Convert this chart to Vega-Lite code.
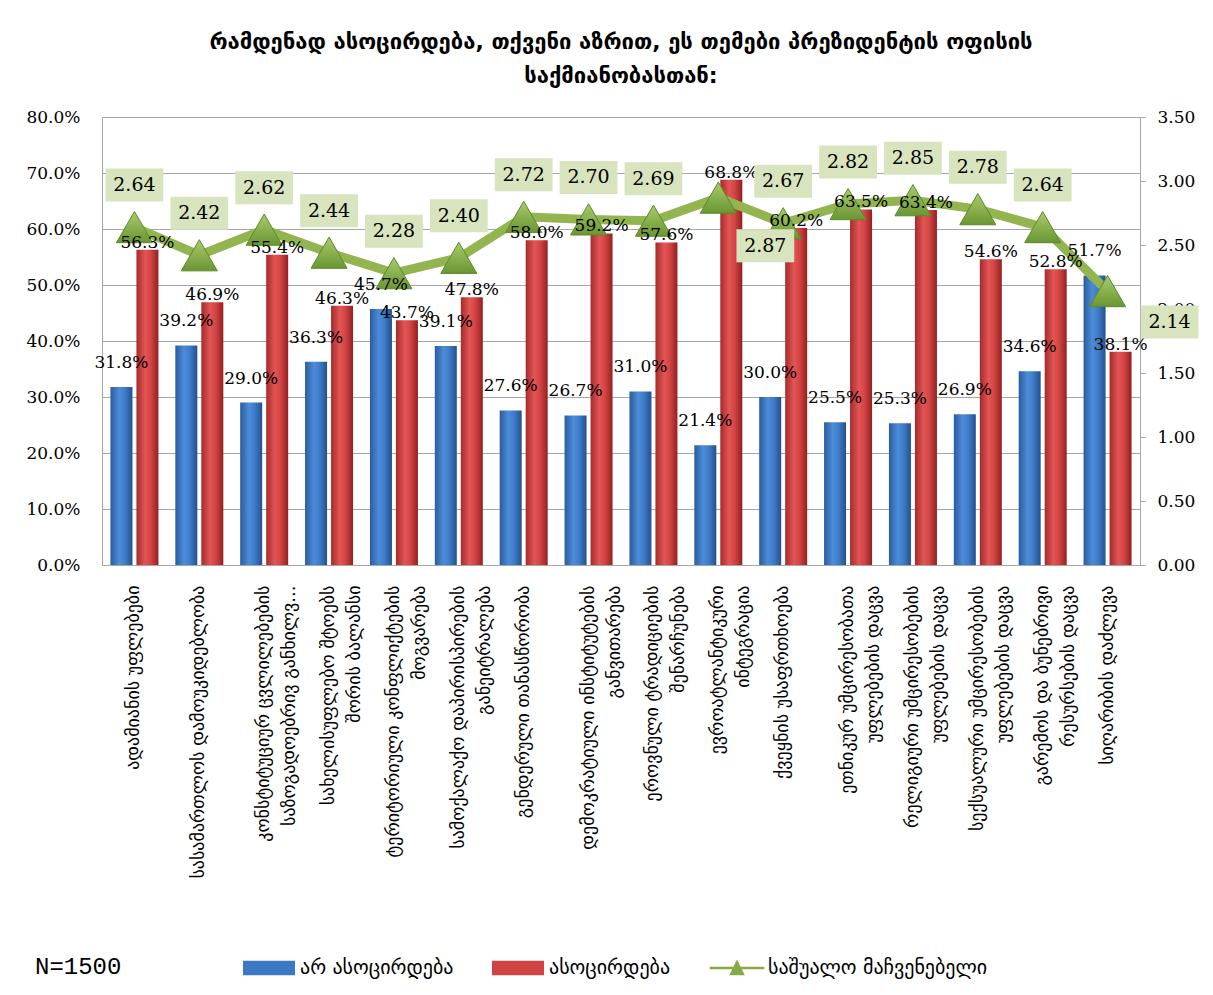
{
  "$schema": "https://vega.github.io/schema/vega-lite/v6.json",
  "width": 1038,
  "height": 448,
  "autosize": {"type": "none"},
  "padding": {"left": 102, "top": 117, "right": 73, "bottom": 430},
  "background": "white",
  "title": {
    "text": ["რამდენად ასოცირდება, თქვენი აზრით, ეს თემები პრეზიდენტის ოფისის", "საქმიანობასთან:"],
    "font": "DejaVu Sans",
    "fontSize": 22,
    "fontWeight": "bold",
    "color": "#000000",
    "anchor": "middle",
    "lineHeight": 34,
    "offset": 20
  },
  "data": {
    "values": [
      {"cat": "ადამიანის უფლებები", "no": 0.318, "yes": 0.563, "avg": 2.64},
      {"cat": "სასამართლოს დამოუკიდებლობა", "no": 0.392, "yes": 0.469, "avg": 2.42},
      {"cat": "კონსტიტუციურ ცვლილებების|საზოგადოებრივ განხილვ...", "no": 0.29, "yes": 0.554, "avg": 2.62},
      {"cat": "სახელისუფლებო შტოებს|შორის ბალანსი", "no": 0.363, "yes": 0.463, "avg": 2.44},
      {"cat": "ტერიტორიული კონფლიქტების|მოგვარება", "no": 0.457, "yes": 0.437, "avg": 2.28},
      {"cat": "სამოქალაქო დაპირისპირების|განეიტრალება", "no": 0.391, "yes": 0.478, "avg": 2.40},
      {"cat": "გენდერული თანასწორობა", "no": 0.276, "yes": 0.58, "avg": 2.72},
      {"cat": "დემოკრატიული ინსტიტუტების|განვითარება", "no": 0.267, "yes": 0.592, "avg": 2.70},
      {"cat": "ეროვნული ტრადიციების|შენარჩუნება", "no": 0.31, "yes": 0.576, "avg": 2.69},
      {"cat": "ევროატლანტიკური|ინტეგრაცია", "no": 0.214, "yes": 0.688, "avg": 2.87},
      {"cat": "ქვეყნის უსაფრთხოება", "no": 0.30, "yes": 0.602, "avg": 2.67},
      {"cat": "ეთნიკურ უმცირესობათა|უფლებების დაცვა", "no": 0.255, "yes": 0.635, "avg": 2.82},
      {"cat": "რელიგიური უმცირესობების|უფლებების დაცვა", "no": 0.253, "yes": 0.634, "avg": 2.85},
      {"cat": "სექსუალური უმცირესობების|უფლებების დაცვა", "no": 0.269, "yes": 0.546, "avg": 2.78},
      {"cat": "გარემოს და ბუნებრივი|რესურსების დაცვა", "no": 0.346, "yes": 0.528, "avg": 2.64},
      {"cat": "სიღარიბის დაძლევა", "no": 0.517, "yes": 0.381, "avg": 2.14}
    ]
  },
  "encoding": {
    "x": {
      "field": "cat",
      "type": "nominal",
      "sort": null,
      "scale": {"paddingInner": 0.26, "paddingOuter": 0.13},
      "axis": {
        "title": null,
        "labelAngle": 270,
        "labelExpr": "split(datum.label, '|')",
        "labelFont": "DejaVu Sans",
        "labelFontSize": 18,
        "labelLineHeight": 26,
        "labelPadding": 20,
        "labelLimit": 0,
        "labelOverlap": false,
        "labelColor": "#000000",
        "ticks": false,
        "domain": false
      }
    }
  },
  "layer": [
    {
      "transform": [{"fold": ["no", "yes"], "as": ["series", "pct"]}, {"filter": "datum.series == 'no'"}],
      "mark": {
        "type": "bar",
        "color": {"gradient": "linear", "x1": 0, "y1": 0, "x2": 1, "y2": 0,
          "stops": [{"offset": 0, "color": "#2a5c9e"}, {"offset": 0.4, "color": "#4d8cd8"}, {"offset": 0.65, "color": "#3f7dcb"}, {"offset": 1, "color": "#24508c"}]}
      },
      "encoding": {
        "xOffset": {"field": "series", "type": "nominal", "scale": {"domain": ["no", "yes"], "paddingInner": 0.154}},
        "y": {
          "field": "pct", "type": "quantitative",
          "scale": {"domain": [0, 0.8]},
          "axis": {
            "orient": "left", "title": null, "format": ".1%",
            "values": [0, 0.1, 0.2, 0.3, 0.4, 0.5, 0.6, 0.7, 0.8],
            "grid": true, "gridColor": "#a6a6a6", "ticks": false, "domain": false,
            "labelFont": "DejaVu Serif", "labelFontSize": 17, "labelPadding": 22, "labelColor": "#000000"
          }
        }
      }
    },
    {
      "transform": [{"fold": ["no", "yes"], "as": ["series", "pct"]}, {"filter": "datum.series == 'yes'"}],
      "mark": {
        "type": "bar",
        "color": {"gradient": "linear", "x1": 0, "y1": 0, "x2": 1, "y2": 0,
          "stops": [{"offset": 0, "color": "#a62a2a"}, {"offset": 0.4, "color": "#e25656"}, {"offset": 0.65, "color": "#d44444"}, {"offset": 1, "color": "#922020"}]}
      },
      "encoding": {
        "xOffset": {"field": "series", "type": "nominal", "scale": {"domain": ["no", "yes"], "paddingInner": 0.154}},
        "y": {"field": "pct", "type": "quantitative", "scale": {"domain": [0, 0.8]}, "axis": null}
      }
    },
    {
      "mark": {"type": "line", "color": "#92b550", "strokeWidth": 9},
      "encoding": {
        "y": {
          "field": "avg", "type": "quantitative",
          "scale": {"domain": [0, 3.5]},
          "axis": {
            "orient": "right", "title": null, "format": ".2f",
            "values": [0, 0.5, 1, 1.5, 2, 2.5, 3, 3.5],
            "grid": false, "ticks": true, "tickSize": 5, "tickColor": "#a6a6a6", "domain": false,
            "labelFont": "DejaVu Serif", "labelFontSize": 17, "labelPadding": 12, "labelColor": "#000000"
          }
        }
      }
    },
    {
      "mark": {
        "type": "point", "shape": "triangle-up", "filled": true, "size": 1300, "opacity": 1,
        "fill": {"gradient": "linear", "x1": 0, "y1": 0, "x2": 0, "y2": 1,
          "stops": [{"offset": 0, "color": "#a9cb6c"}, {"offset": 1, "color": "#6a9632"}]},
        "stroke": "#5b8a2a", "strokeWidth": 1
      },
      "encoding": {
        "y": {"field": "avg", "type": "quantitative", "scale": {"domain": [0, 3.5]}, "axis": null}
      }
    },
    {
      "mark": {"type": "point", "filled": true, "opacity": 0},
      "encoding": {
        "y": {"field": "avg", "type": "quantitative", "scale": {"domain": [0, 3.5]}, "axis": null},
        "color": {
          "datum": "საშუალო მაჩვენებელი", "type": "nominal",
          "scale": {"domain": ["არ ასოცირდება", "ასოცირდება", "საშუალო მაჩვენებელი"], "range": ["#3d78c4", "#d04343", "#86ab45"]},
          "legend": {
            "orient": "none", "legendX": -67, "legendY": 838, "direction": "horizontal",
            "title": "N=1500", "titleOrient": "left", "titlePadding": 134,
            "titleFont": "Liberation Mono", "titleFontSize": 24, "titleFontWeight": "normal", "titleColor": "#000000",
            "symbolSize": 676, "symbolOpacity": 1, "symbolStrokeWidth": 0,
            "labelFont": "DejaVu Sans", "labelFontSize": 20, "labelOffset": 18, "labelColor": "#000000", "labelLimit": 0,
            "columnPadding": 38
          }
        },
        "shape": {
          "datum": "საშუალო მაჩვენებელი", "type": "nominal",
          "scale": {"domain": ["არ ასოცირდება", "ასოცირდება", "საშუალო მაჩვენებელი"],
            "range": ["M-2,-0.55H2V0.55H-2Z", "M-2,-0.55H2V0.55H-2Z", "M-2.1,-0.1H2.1V0.1H-2.1Z M-0.6,0.55L0,-0.65L0.6,0.55Z"]},
          "legend": {
            "orient": "none", "legendX": -67, "legendY": 838, "direction": "horizontal",
            "title": "N=1500", "titleOrient": "left", "titlePadding": 134,
            "titleFont": "Liberation Mono", "titleFontSize": 24, "titleFontWeight": "normal", "titleColor": "#000000",
            "symbolSize": 676, "symbolOpacity": 1, "symbolStrokeWidth": 0,
            "labelFont": "DejaVu Sans", "labelFontSize": 20, "labelOffset": 18, "labelColor": "#000000", "labelLimit": 0,
            "columnPadding": 38
          }
        }
      }
    },
    {
      "transform": [{"fold": ["no", "yes"], "as": ["series", "pct"]}, {"filter": "datum.series == 'no'"}],
      "mark": {"type": "text", "font": "DejaVu Serif", "fontSize": 17, "color": "#000000", "baseline": "middle", "dy": -24},
      "encoding": {
        "xOffset": {"field": "series", "type": "nominal", "scale": {"domain": ["no", "yes"], "paddingInner": 0.154}},
        "y": {"field": "pct", "type": "quantitative", "scale": {"domain": [0, 0.8]}, "axis": null},
        "text": {"field": "pct", "type": "quantitative", "format": ".1%"}
      }
    },
    {
      "transform": [{"fold": ["no", "yes"], "as": ["series", "pct"]}, {"filter": "datum.series == 'yes'"}],
      "mark": {"type": "text", "font": "DejaVu Serif", "fontSize": 17, "color": "#000000", "baseline": "middle", "dy": -7},
      "encoding": {
        "xOffset": {"field": "series", "type": "nominal", "scale": {"domain": ["no", "yes"], "paddingInner": 0.154}},
        "y": {"field": "pct", "type": "quantitative", "scale": {"domain": [0, 0.8]}, "axis": null},
        "text": {"field": "pct", "type": "quantitative", "format": ".1%"}
      }
    },
    {
      "transform": [{"filter": "datum.avg != 2.87 && datum.avg != 2.14"}],
      "mark": {"type": "point", "shape": "M-1.75,-1H1.75V1H-1.75Z", "size": 1089, "filled": true, "opacity": 1, "color": "#d7e4bd", "yOffset": -42},
      "encoding": {"y": {"field": "avg", "type": "quantitative", "scale": {"domain": [0, 3.5]}, "axis": null}}
    },
    {
      "transform": [{"filter": "datum.avg == 2.87"}],
      "mark": {"type": "point", "shape": "M-1.75,-1H1.75V1H-1.75Z", "size": 1089, "filled": true, "opacity": 1, "color": "#d7e4bd", "xOffset": 47, "yOffset": 48},
      "encoding": {"y": {"field": "avg", "type": "quantitative", "scale": {"domain": [0, 3.5]}, "axis": null}}
    },
    {
      "transform": [{"filter": "datum.avg == 2.14"}],
      "mark": {"type": "point", "shape": "M-1.75,-1H1.75V1H-1.75Z", "size": 1089, "filled": true, "opacity": 1, "color": "#d7e4bd", "xOffset": 62, "yOffset": 31},
      "encoding": {"y": {"field": "avg", "type": "quantitative", "scale": {"domain": [0, 3.5]}, "axis": null}}
    },
    {
      "transform": [{"filter": "datum.avg != 2.87 && datum.avg != 2.14"}],
      "mark": {"type": "text", "font": "DejaVu Serif", "fontSize": 19, "color": "#000000", "baseline": "middle", "dy": -42},
      "encoding": {
        "y": {"field": "avg", "type": "quantitative", "scale": {"domain": [0, 3.5]}, "axis": null},
        "text": {"field": "avg", "type": "quantitative", "format": ".2f"}
      }
    },
    {
      "transform": [{"filter": "datum.avg == 2.87"}],
      "mark": {"type": "text", "font": "DejaVu Serif", "fontSize": 19, "color": "#000000", "baseline": "middle", "dx": 47, "dy": 48},
      "encoding": {
        "y": {"field": "avg", "type": "quantitative", "scale": {"domain": [0, 3.5]}, "axis": null},
        "text": {"field": "avg", "type": "quantitative", "format": ".2f"}
      }
    },
    {
      "transform": [{"filter": "datum.avg == 2.14"}],
      "mark": {"type": "text", "font": "DejaVu Serif", "fontSize": 19, "color": "#000000", "baseline": "middle", "dx": 62, "dy": 31},
      "encoding": {
        "y": {"field": "avg", "type": "quantitative", "scale": {"domain": [0, 3.5]}, "axis": null},
        "text": {"field": "avg", "type": "quantitative", "format": ".2f"}
      }
    }
  ],
  "resolve": {"scale": {"y": "independent"}},
  "config": {
    "view": {"stroke": "#a6a6a6", "strokeWidth": 1},
    "axis": {"labelColor": "#000000"}
  }
}
